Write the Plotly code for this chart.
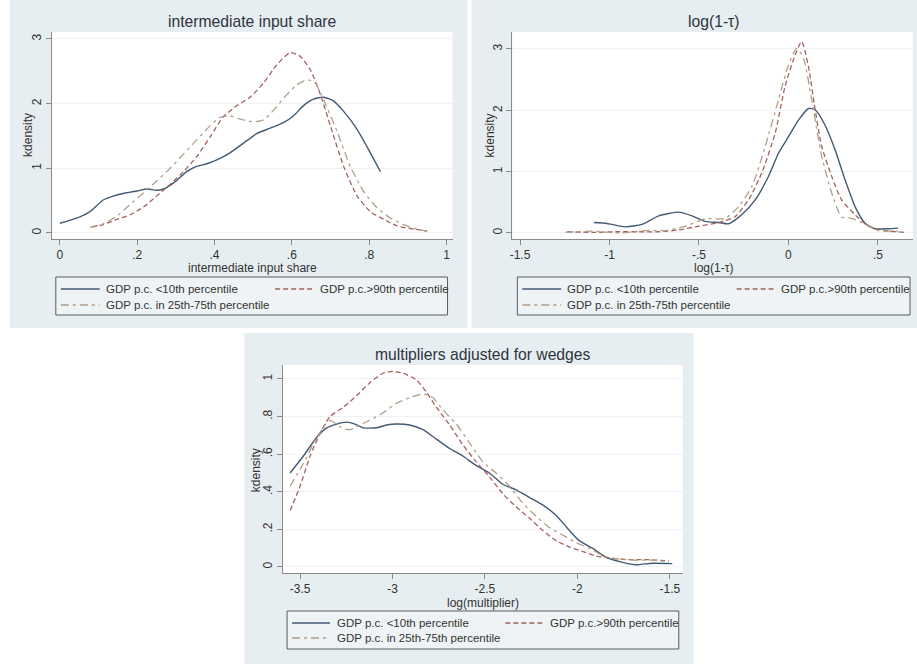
import plotly.graph_objects as go

W, H = 917, 668

# ---- data: kernel density estimates by income group ----
# panel 1: intermediate input share
share_low_x = [0, 0.052, 0.078, 0.112, 0.138, 0.164, 0.2, 0.225, 0.25, 0.268, 0.302, 0.328, 0.354, 0.38, 0.406, 0.44,
               0.475, 0.51, 0.544, 0.579, 0.604, 0.63, 0.656, 0.682, 0.708, 0.734, 0.769, 0.803, 0.829]
share_low_y = [0.15, 0.25, 0.33, 0.51, 0.57, 0.61, 0.65, 0.68, 0.66, 0.68, 0.81, 0.95, 1.03, 1.07, 1.13, 1.24,
               1.39, 1.54, 1.62, 1.71, 1.81, 1.97, 2.07, 2.10, 2.04, 1.88, 1.60, 1.24, 0.95]
share_high_x = [0.082, 0.112, 0.147, 0.181, 0.216, 0.25, 0.285, 0.32, 0.354, 0.389, 0.423, 0.458, 0.492, 0.527, 0.561,
                0.596, 0.622, 0.648, 0.674, 0.70, 0.734, 0.769, 0.803, 0.838, 0.872, 0.915, 0.95]
share_high_y = [0.09, 0.13, 0.21, 0.28, 0.40, 0.57, 0.75, 0.95, 1.18, 1.49, 1.80, 1.97, 2.10, 2.32, 2.60,
                2.79, 2.73, 2.52, 2.14, 1.65, 1.03, 0.57, 0.33, 0.21, 0.11, 0.06, 0.03]
share_mid_x = [0.078, 0.112, 0.147, 0.181, 0.216, 0.25, 0.285, 0.32, 0.354, 0.389, 0.415, 0.44, 0.466, 0.50, 0.527,
               0.553, 0.587, 0.613, 0.639, 0.66, 0.682, 0.717, 0.751, 0.786, 0.82, 0.855, 0.889, 0.924, 0.95]
share_mid_y = [0.09, 0.14, 0.26, 0.44, 0.62, 0.80, 1.00, 1.22, 1.44, 1.66, 1.79, 1.81, 1.76, 1.72, 1.75,
               1.90, 2.14, 2.29, 2.37, 2.32, 2.06, 1.57, 1.03, 0.64, 0.39, 0.23, 0.13, 0.06, 0.03]

# panel 2: log(1-tau)
tau_low_x = [-1.087, -1.022, -0.911, -0.818, -0.725, -0.613, -0.539, -0.465, -0.39, -0.335, -0.26, -0.186, -0.112,
             -0.056, 0, 0.056, 0.112, 0.149, 0.204, 0.26, 0.316, 0.372, 0.428, 0.483, 0.558, 0.613]
tau_low_y = [0.17, 0.16, 0.10, 0.14, 0.28, 0.34, 0.28, 0.19, 0.17, 0.15, 0.30, 0.54, 0.92,
             1.30, 1.57, 1.84, 2.03, 2.01, 1.76, 1.36, 0.87, 0.43, 0.16, 0.07, 0.07, 0.08]
tau_high_x = [-1.236, -1.097, -0.967, -0.836, -0.725, -0.613, -0.502, -0.39, -0.297, -0.223, -0.149, -0.074, -0.019,
              0.037, 0.074, 0.112, 0.149, 0.186, 0.242, 0.297, 0.372, 0.446, 0.539, 0.651]
tau_high_y = [0.02, 0.01, 0.02, 0.02, 0.02, 0.05, 0.11, 0.17, 0.27, 0.54, 0.98, 1.63, 2.39,
              2.90, 3.12, 2.71, 2.01, 1.41, 0.92, 0.54, 0.30, 0.11, 0.04, 0.01]
tau_mid_x = [-1.245, -1.097, -0.948, -0.799, -0.688, -0.576, -0.465, -0.353, -0.279, -0.204, -0.13, -0.056, 0,
             0.046, 0.084, 0.13, 0.186, 0.242, 0.297, 0.353, 0.428, 0.502, 0.613]
tau_mid_y = [0.01, 0.03, 0.0, 0.04, 0.04, 0.11, 0.23, 0.24, 0.43, 0.76, 1.41, 2.17, 2.74,
             3.01, 2.85, 2.17, 1.25, 0.65, 0.26, 0.24, 0.14, 0.04, 0.03]

# panel 3: log(multiplier)
mult_low_x = [-3.554, -3.482, -3.41, -3.356, -3.302, -3.248, -3.203, -3.159, -3.087, -3.033, -2.979, -2.907, -2.835,
              -2.763, -2.691, -2.62, -2.548, -2.476, -2.404, -2.332, -2.26, -2.188, -2.116, -2.044, -1.99, -1.919,
              -1.847, -1.775, -1.685, -1.595, -1.487]
mult_low_y = [0.50, 0.59, 0.69, 0.74, 0.76, 0.77, 0.76, 0.74, 0.74, 0.755, 0.76, 0.755, 0.73,
              0.68, 0.63, 0.59, 0.54, 0.50, 0.44, 0.41, 0.37, 0.33, 0.275, 0.195, 0.14, 0.10,
              0.053, 0.03, 0.012, 0.02, 0.018]
mult_high_x = [-3.554, -3.5, -3.446, -3.392, -3.338, -3.266, -3.195, -3.123, -3.051, -2.997, -2.943, -2.871, -2.817,
               -2.763, -2.691, -2.62, -2.548, -2.476, -2.404, -2.332, -2.26, -2.188, -2.116, -2.044, -1.973, -1.901,
               -1.829, -1.721, -1.613, -1.505]
mult_high_y = [0.30, 0.43, 0.59, 0.71, 0.80, 0.85, 0.91, 0.98, 1.03, 1.04, 1.03, 0.995, 0.93,
               0.85, 0.755, 0.65, 0.56, 0.48, 0.39, 0.32, 0.26, 0.195, 0.14, 0.107, 0.083, 0.059,
               0.048, 0.039, 0.039, 0.032]
mult_mid_x = [-3.554, -3.482, -3.41, -3.338, -3.284, -3.23, -3.177, -3.123, -3.051, -2.979, -2.907, -2.835, -2.781,
              -2.727, -2.655, -2.584, -2.512, -2.44, -2.368, -2.296, -2.224, -2.152, -2.08, -2.008, -1.937, -1.865,
              -1.793, -1.685, -1.577, -1.505]
mult_mid_y = [0.43, 0.55, 0.69, 0.78, 0.745, 0.73, 0.755, 0.78, 0.82, 0.87, 0.90, 0.92, 0.90,
              0.835, 0.76, 0.66, 0.56, 0.50, 0.43, 0.34, 0.27, 0.21, 0.17, 0.13, 0.10, 0.062,
              0.044, 0.036, 0.036, 0.027]

series_names = ["GDP p.c. <10th percentile", "GDP p.c.>90th percentile", "GDP p.c. in 25th-75th percentile"]

titles = ["intermediate input share", "log(1-\u03c4)", "multipliers adjusted for wedges"]
xtitles = ["intermediate input share", "log(1-\u03c4)", "log(multiplier)"]

share_xticks = [0, 0.2, 0.4, 0.6, 0.8, 1]
share_xtext = ["0", ".2", ".4", ".6", ".8", "1"]
tau_xticks = [-1.5, -1, -0.5, 0, 0.5]
tau_xtext = ["-1.5", "-1", "-.5", "0", ".5"]
mult_xticks = [-3.5, -3, -2.5, -2, -1.5]
mult_xtext = ["-3.5", "-3", "-2.5", "-2", "-1.5"]
dens_yticks = [0, 1, 2, 3]
dens_ytext = ["0", "1", "2", "3"]
mult_yticks = [0, 0.2, 0.4, 0.6, 0.8, 1]
mult_ytext = ["0", ".2", ".4", ".6", ".8", "1"]

# ---- styling ----
FONT = "Liberation Sans, Arial, sans-serif"
PANEL_BG = "#e7eef1"
TXT = "#333333"
AXIS = "#8a8a8a"
GRID = "#eef2f4"
line_styles = [
    dict(color="#435a74", width=1.4, dash="solid"),
    dict(color="#a3625f", width=1.3, dash="5px,3px"),
    dict(color="#b0a088", width=1.3, dash="8px,4px,3px,4px"),
]

# layout geometry in pixels
panels = [
    dict(bg=(7, 0, 466, 328), plot=(49, 32, 451, 239), xr=[-0.0207, 1.0155], yr=[-0.093, 3.108],
         xt=(share_xticks, share_xtext), yt=(dens_yticks, dens_ytext),
         data=[(share_low_x, share_low_y), (share_high_x, share_high_y), (share_mid_x, share_mid_y)],
         title=(250, 21), xtitle=(250, 268), ytitle=(25, 135),
         leg=(53, 277, 446, 315), rows=(289, 305), c1=(58, 97, 101), c2=(273, 311, 316)),
    dict(bg=(470, 0, 917, 328), plot=(511, 32, 913, 239), xr=[-1.543, 0.696], yr=[-0.098, 3.277],
         xt=(tau_xticks, tau_xtext), yt=(dens_yticks, dens_ytext),
         data=[(tau_low_x, tau_low_y), (tau_high_x, tau_high_y), (tau_mid_x, tau_mid_y)],
         title=(713, 21), xtitle=(713, 268), ytitle=(489, 135),
         leg=(516, 277, 910, 315), rows=(289, 305), c1=(521, 560, 564), c2=(736, 773, 779)),
    dict(bg=(242, 333, 693, 664), plot=(281, 365, 682, 573), xr=[-3.592, -1.430], yr=[-0.032, 1.074],
         xt=(mult_xticks, mult_xtext), yt=(mult_yticks, mult_ytext),
         data=[(mult_low_x, mult_low_y), (mult_high_x, mult_high_y), (mult_mid_x, mult_mid_y)],
         title=(482, 354), xtitle=(482, 603), ytitle=(254, 470),
         leg=(285, 611, 678, 649), rows=(623, 638), c1=(290, 328, 333), c2=(504, 541, 547)),
]


def px(x):
    return x / W


def py(y):
    return 1 - y / H


fig = go.Figure()
shapes = []
annotations = []

for i, p in enumerate(panels):
    n = "" if i == 0 else str(i + 1)
    xa, ya = "x" + n, "y" + n
    # panel background and white plot region
    x0, y0, x1, y1 = p["bg"]
    shapes.append(dict(type="rect", xref="paper", yref="paper", x0=px(x0), x1=px(x1), y0=py(y1), y1=py(y0),
                       fillcolor=PANEL_BG, line=dict(width=0), layer="below"))
    l, t, r, b = p["plot"]
    shapes.append(dict(type="rect", xref="paper", yref="paper", x0=px(l), x1=px(r), y0=py(b), y1=py(t),
                       fillcolor="white", line=dict(width=0), layer="below"))

    for (xs, ys), st in zip(p["data"], line_styles):
        fig.add_trace(go.Scatter(x=xs, y=ys, mode="lines", line=dict(shape="spline", smoothing=0.6, **st),
                                 xaxis=xa, yaxis=ya, showlegend=False, hoverinfo="skip"))

    axis_common = dict(showline=True, linecolor=AXIS, linewidth=1, ticks="outside", ticklen=5,
                       tickcolor=AXIS, tickwidth=1, zeroline=False,
                       tickfont=dict(family=FONT, size=12, color=TXT))
    fig.layout["xaxis" + n] = dict(domain=[px(l), px(r)], range=p["xr"], anchor=ya, showgrid=False,
                                   tickmode="array", tickvals=p["xt"][0], ticktext=p["xt"][1], **axis_common)
    fig.layout["yaxis" + n] = dict(domain=[py(b), py(t)], range=p["yr"], anchor=xa, showgrid=True,
                                   gridcolor=GRID, gridwidth=1, tickangle=-90,
                                   tickmode="array", tickvals=p["yt"][0], ticktext=p["yt"][1], **axis_common)

    # titles
    annotations.append(dict(text=titles[i], x=px(p["title"][0]), y=py(p["title"][1]), xref="paper", yref="paper",
                            showarrow=False, xanchor="center", yanchor="middle",
                            font=dict(family=FONT, size=15.7, color="#2f3440")))
    annotations.append(dict(text=xtitles[i], x=px(p["xtitle"][0]), y=py(p["xtitle"][1]), xref="paper",
                            yref="paper", showarrow=False, xanchor="center", yanchor="middle",
                            font=dict(family=FONT, size=12, color=TXT)))
    annotations.append(dict(text="kdensity", x=px(p["ytitle"][0]), y=py(p["ytitle"][1]), xref="paper",
                            yref="paper", showarrow=False, xanchor="center", yanchor="middle", textangle=-90,
                            font=dict(family=FONT, size=12, color=TXT)))

    # legend box
    lx0, ly0, lx1, ly1 = p["leg"]
    shapes.append(dict(type="rect", xref="paper", yref="paper", x0=px(lx0), x1=px(lx1), y0=py(ly1), y1=py(ly0),
                       fillcolor="#eef3f5", line=dict(color="#5a5a5a", width=1)))
    r1, r2 = p["rows"]
    slots = [(p["c1"], r1), (p["c2"], r1), (p["c1"], r2)]
    for k, ((sx0, sx1, tx), ry) in enumerate(slots):
        st = line_styles[k]
        shapes.append(dict(type="line", xref="paper", yref="paper", x0=px(sx0), x1=px(sx1), y0=py(ry), y1=py(ry),
                           line=dict(color=st["color"], width=st["width"], dash=st["dash"])))
        annotations.append(dict(text=series_names[k], x=px(tx), y=py(ry), xref="paper", yref="paper",
                                showarrow=False, xanchor="left", yanchor="middle",
                                font=dict(family=FONT, size=11.5, color=TXT)))

fig.update_layout(
    width=W, height=H,
    margin=dict(l=0, r=0, t=0, b=0),
    paper_bgcolor="white",
    plot_bgcolor="white",
    shapes=shapes,
    annotations=annotations,
    showlegend=False,
)

fig.write_html("out.html", include_plotlyjs=True, config=dict(displayModeBar=False))
